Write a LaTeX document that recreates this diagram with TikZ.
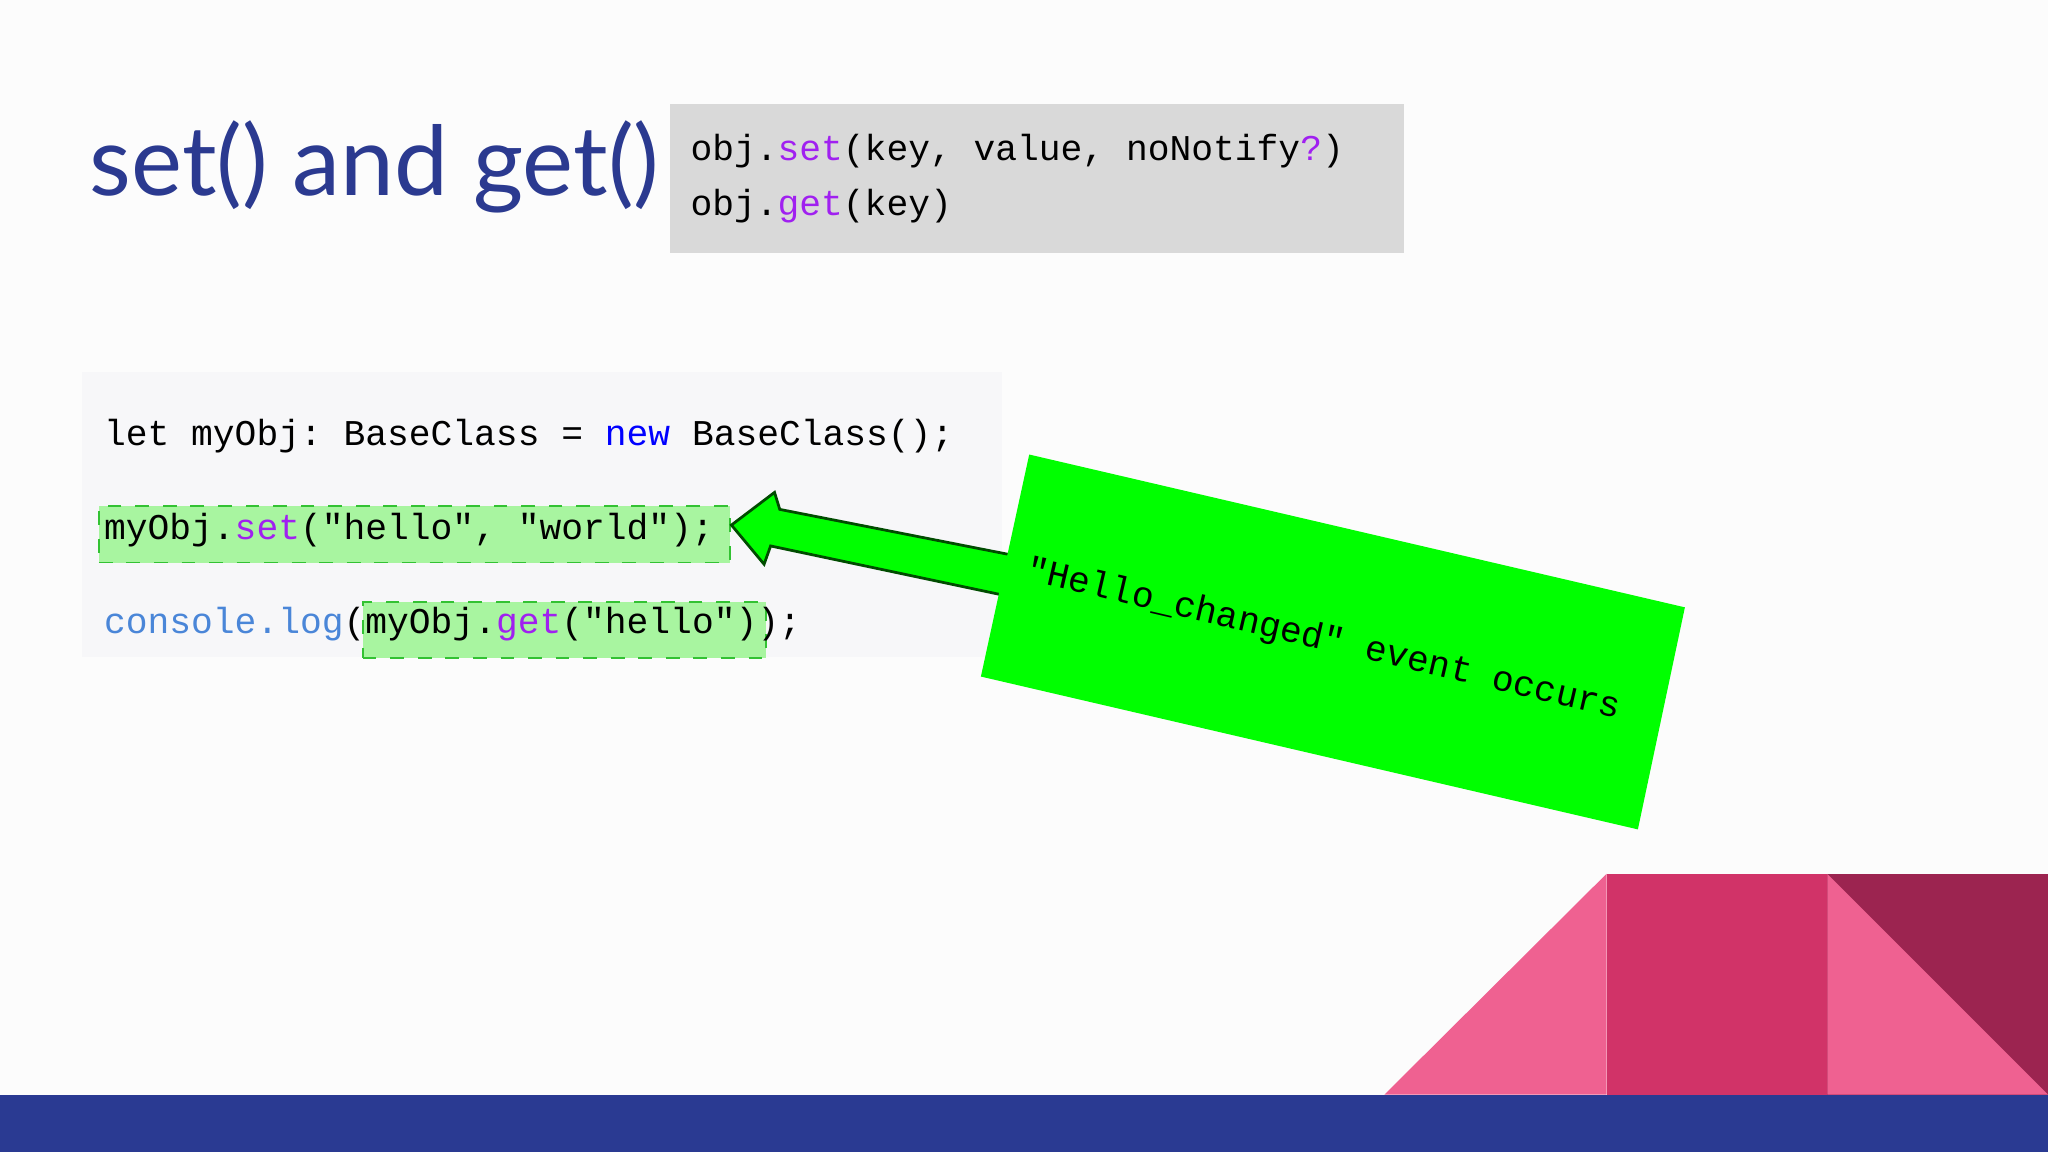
\documentclass[tikz,border=0pt]{standalone}
\usepackage{fontspec}
\setmainfont{Lato}
\setmonofont{Liberation Mono}
\definecolor{titleblue}{HTML}{2B3A90}
\definecolor{kwpurple}{HTML}{A020F0}
\definecolor{kwblue}{HTML}{0000FF}
\definecolor{conblue}{HTML}{4A86D8}
\definecolor{codebg}{HTML}{F7F7F9}
\definecolor{hlgreen}{HTML}{A8F5A0}
\definecolor{brightgreen}{HTML}{00FF00}
\definecolor{pinkA}{HTML}{EF6191}
\definecolor{pinkB}{HTML}{D13368}
\definecolor{pinkC}{HTML}{9C2450}
\definecolor{barblue}{HTML}{2A3A92}
\tikzset{
 code/.style={font=\fontsize{7.9}{9}\selectfont\ttfamily, inner sep=0pt, anchor=west},
 hl/.style={draw=green!70!black!80, dashed, fill=hlgreen, line width=0.4pt},
}
\begin{document}
\begin{tikzpicture}[x=0.01cm,y=-0.01cm]
\useasboundingbox[fill=white!98!gray] (0,0) rectangle (1568,882);
% title
\node[anchor=west, inner sep=0pt, text=titleblue, font=\fontsize{21}{25}\selectfont] (title) at (68,128) {set() and get()};
% top code box
\fill[gray!30] (513,80) rectangle (1075,194);
\node[code] (sig1) at (528,116) {obj.\textcolor{kwpurple}{set}(key, value, noNotify\textcolor{kwpurple}{?})};
\node[code] (sig2) at (528,158) {obj.\textcolor{kwpurple}{get}(key)};
% code panel
\fill[codebg] (63,285) rectangle (767,503);
\node[hl, minimum width=483*0.01cm, minimum height=43*0.01cm, anchor=north west, inner sep=0pt] (hl1) at (75,387) {};
\node[hl, minimum width=309*0.01cm, minimum height=43*0.01cm, anchor=north west, inner sep=0pt] (hl2) at (277,460) {};
\node[code] (l1) at (79,334) {let myObj: BaseClass = \textcolor{kwblue}{new} BaseClass();};
\node[code] (l2) at (79,406) {myObj.\textcolor{kwpurple}{set}("hello", "world");};
\node[code] (l3) at (79,478) {\textcolor{conblue}{console.log}(myObj.\textcolor{kwpurple}{get}("hello"));};
% arrow
\draw[fill=brightgreen, draw=black!70!green, line width=0.6pt, line join=miter]
 (775,425) -- (597,390) -- (593,377) -- (560,402) -- (585,432) -- (590,418) -- (765,455);
% rotated green box
\fill[brightgreen] (788,348) -- (1290,465) -- (1254,635) -- (751,518) -- cycle;
\node[code, anchor=center, rotate=-13.1] (ev) at (1013,490) {"Hello\_changed" event occurs};
% decorations
\fill[pinkA] (1060,838) -- (1230,669) -- (1230,838) -- cycle;
\fill[pinkB] (1230,669) rectangle (1399,838);
\fill[pinkC] (1399,669) rectangle (1568,838);
\fill[pinkA] (1399,669) -- (1568,838) -- (1399,838) -- cycle;
\fill[barblue] (0,838) rectangle (1568,882);
\end{tikzpicture}
\end{document}
